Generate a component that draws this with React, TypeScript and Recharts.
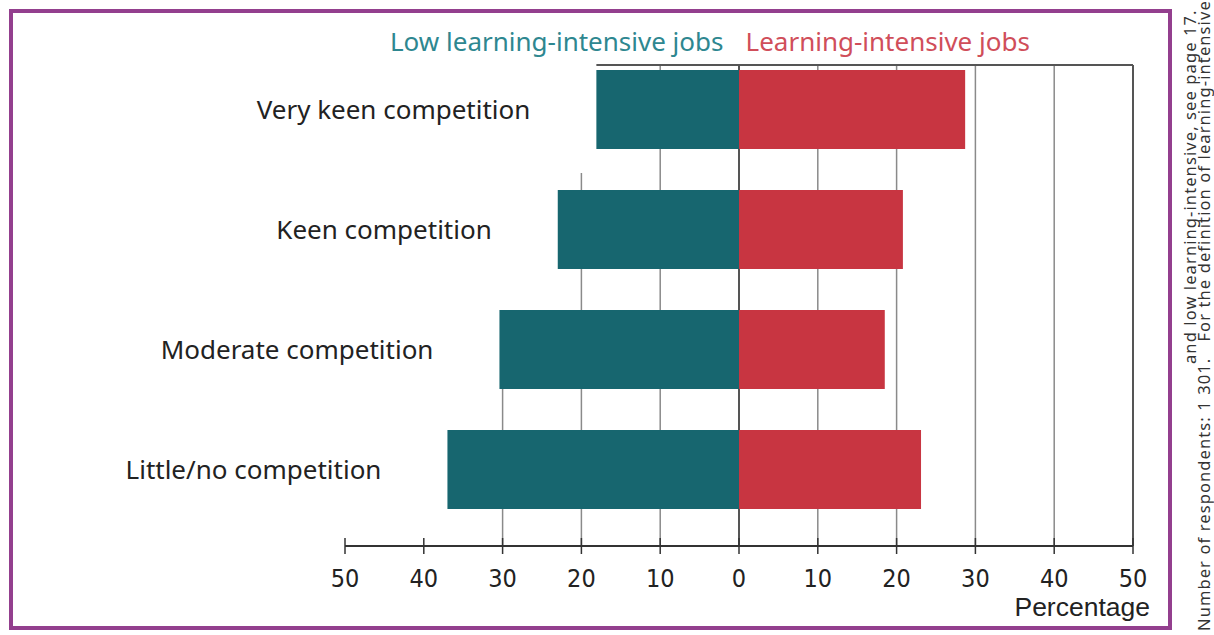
import React from 'react';
import {
  BarChart,
  Bar,
  XAxis,
  YAxis,
  ReferenceLine,
  LabelList,
  Label,
} from 'recharts';

// competition levels, top to bottom
const categories = [
  'Very keen competition',
  'Keen competition',
  'Moderate competition',
  'Little/no competition',
];
// percentages (left side is drawn as negative)
const lowLearningJobs = [18.1, 23.0, 30.4, 37.0];
const learningJobs = [28.7, 20.8, 18.5, 23.1];
const xTicks = [-50, -40, -30, -20, -10, 0, 10, 20, 30, 40, 50];

const TEAL = '#17666f';
const RED = '#c83541';
const SANS = "'Noto Sans', 'Open Sans', sans-serif";
const NARROW = "'Liberation Sans Narrow', 'DejaVu Sans Condensed', sans-serif";

const data = categories.map((category, i) => ({
  category,
  low: -lowLearningJobs[i],
  high: learningJobs[i],
}));

// grid line that starts some way below the top of the plot area
const partialLine = (fromTop: number, stroke: string, width: number) => (p: any) => {
  const top = Math.min(p.y1, p.y2);
  const bottom = Math.max(p.y1, p.y2);
  return <line x1={p.x1} x2={p.x2} y1={top + fromTop} y2={bottom} stroke={stroke} strokeWidth={width} />;
};

const AxisTick = (props: any) => {
  const { x, y, payload } = props;
  return (
    <g>
      <line x1={x} x2={x} y1={y - 8} y2={y + 8} stroke="#333" strokeWidth={1.5} />
      <text x={x} y={y + 41} textAnchor="middle" fill="#222" fontSize={25} fontFamily={NARROW}>
        {Math.abs(payload.value)}
      </text>
    </g>
  );
};

const CategoryLabel = (props: any) => {
  const { x, y, width, height, value } = props;
  const left = Math.min(x, x + width);
  return (
    <text x={left - 66} y={y + height / 2} dy={9} textAnchor="end" fill="#222" fontSize={26} fontFamily={SANS}>
      {value}
    </text>
  );
};

const sideNote: React.CSSProperties = {
  position: 'absolute',
  height: 16,
  transform: 'rotate(-90deg)',
  transformOrigin: 'left top',
  fontFamily: SANS,
  fontSize: 16.5,
  lineHeight: '16px',
  letterSpacing: 1.1,
  color: '#333',
  whiteSpace: 'nowrap',
};

export default function App() {
  return (
    <div style={{ position: 'absolute', left: 0, top: 0, width: 1214, height: 635, background: '#fff' }}>
      <div
        style={{
          position: 'absolute',
          left: 9,
          top: 9,
          width: 1163,
          height: 621,
          border: '4px solid #933f8e',
          boxSizing: 'border-box',
        }}
      />
      {/* series titles sit above the plot */}
      <div
        style={{
          position: 'absolute',
          left: 390,
          top: 26,
          display: 'flex',
          gap: 22,
          fontFamily: SANS,
          fontSize: 26,
          lineHeight: '30px',
          whiteSpace: 'nowrap',
        }}
      >
        <span style={{ color: '#2e8790' }}>Low learning-intensive jobs</span>
        <span style={{ color: '#d04e5a' }}>Learning-intensive jobs</span>
      </div>
      <BarChart
        width={1214}
        height={635}
        data={data}
        layout="vertical"
        stackOffset="sign"
        margin={{ top: 49, right: 81, left: 345, bottom: 19 }}
        style={{ position: 'absolute', left: 0, top: 0 }}
      >
        <XAxis
          type="number"
          domain={[-50, 50]}
          ticks={xTicks}
          height={70}
          tickLine={false}
          tickSize={0}
          tickMargin={0}
          tick={<AxisTick />}
          axisLine={{ stroke: '#333', strokeWidth: 2 }}
        >
          <Label
            value="Percentage"
            position="insideBottomRight"
            offset={0}
            dx={17}
            fill="#222"
            fontSize={26.5}
            fontFamily="'Liberation Sans', Arial, sans-serif"
          />
        </XAxis>
        <YAxis type="category" dataKey="category" hide padding={{ top: 0, bottom: 17 }} />

        <ReferenceLine x={-30} zIndex={-10} shape={partialLine(339, '#8a8a8a', 1.5)} />
        <ReferenceLine x={-20} zIndex={-10} shape={partialLine(124, '#8a8a8a', 1.5)} />
        {[-10, 10, 20, 30, 40].map((v) => (
          <ReferenceLine key={v} x={v} zIndex={-10} shape={partialLine(16, '#8a8a8a', 1.5)} />
        ))}
        <ReferenceLine x={0} zIndex={-10} shape={partialLine(16, '#555', 2)} />
        <ReferenceLine x={50} zIndex={-10} shape={partialLine(16, '#555', 2)} />
        <ReferenceLine
          zIndex={-10}
          segment={[
            { x: -lowLearningJobs[0], y: categories[0] },
            { x: 50, y: categories[0] },
          ]}
          shape={(p: any) => (
            <line x1={p.x1} x2={p.x2} y1={p.y1 - 44} y2={p.y2 - 44} stroke="#555" strokeWidth={2} />
          )}
        />

        <Bar dataKey="low" stackId="a" fill={TEAL} barSize={79} isAnimationActive={false}>
          <LabelList dataKey="category" content={<CategoryLabel />} />
        </Bar>
        <Bar dataKey="high" stackId="a" fill={RED} barSize={79} isAnimationActive={false} />
      </BarChart>

      <div style={{ ...sideNote, left: 1196, top: 631, width: 626 }}>
        Number of respondents: 1 301.&nbsp;&nbsp; For the definition of learning-intensive
      </div>
      <div style={{ ...sideNote, left: 1182, top: 364, width: 356 }}>
        and low learning-intensive, see page 17.
      </div>
    </div>
  );
}
